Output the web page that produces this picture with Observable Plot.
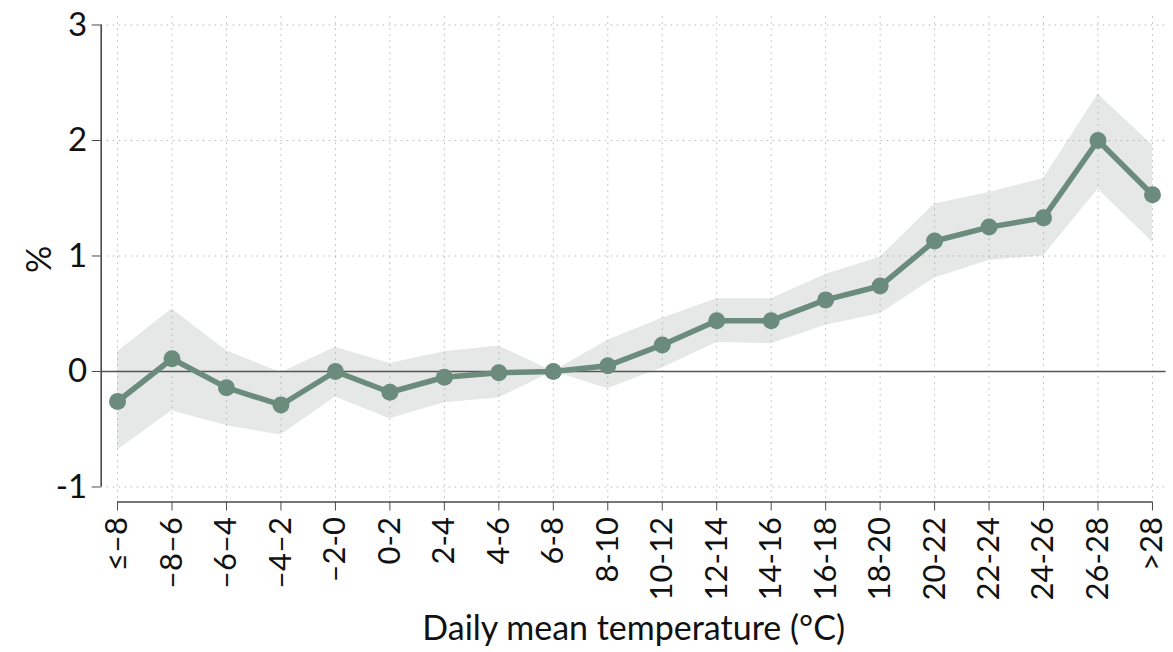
<!DOCTYPE html>
<html>
<head>
<meta charset="utf-8">
<script src="https://cdn.jsdelivr.net/npm/d3@7"></script>
<script src="https://cdn.jsdelivr.net/npm/@observablehq/plot@0.6"></script>
<style>
  html, body { margin: 0; padding: 0; background: #fff; }
  #chart svg { display: block; }
</style>
</head>
<body>
<div id="chart"></div>
<script>
// Temperature bins (°C), estimated effect (%) and 95% confidence bounds
const bins = ["≤–8", "–8–6", "–6–4", "–4–2", "–2-0", "0-2", "2-4", "4-6", "6-8", "8-10",
              "10-12", "12-14", "14-16", "16-18", "18-20", "20-22", "22-24", "24-26", "26-28", ">28"];
const estimate = [-0.26, 0.11, -0.14, -0.29, 0.00, -0.18, -0.05, -0.01, 0.00, 0.05,
                  0.23, 0.44, 0.44, 0.62, 0.74, 1.13, 1.25, 1.33, 2.00, 1.53];
const lower = [-0.68, -0.34, -0.47, -0.55, -0.22, -0.41, -0.27, -0.23, 0.00, -0.15,
               0.03, 0.25, 0.24, 0.40, 0.50, 0.81, 0.96, 1.00, 1.58, 1.12];
const upper = [0.17, 0.54, 0.18, -0.01, 0.21, 0.07, 0.17, 0.22, 0.00, 0.27,
               0.46, 0.63, 0.63, 0.84, 0.99, 1.45, 1.55, 1.67, 2.40, 1.96];
const yTicks = [-1, 0, 1, 2, 3];

const rows = bins.map((b, i) => ({i, bin: b, est: estimate[i], lo: lower[i], hi: upper[i]}));
const idx = d3.range(bins.length);

const xDomain = [-0.3, bins.length - 1 + 0.25];
const yDomain = [-1.13, 3.07];
const green = "#6b8b7c";
const axisColor = "#4a4a4a";

const chart = Plot.plot({
  width: 1173,
  height: 652,
  marginLeft: 100.7,
  marginRight: 7.4,
  marginTop: 16.4,
  marginBottom: 150.5,
  style: {fontFamily: "Lato, 'Open Sans', sans-serif", fontSize: "31px", color: "#111"},
  x: {type: "linear", domain: xDomain},
  y: {domain: yDomain},
  marks: [
    // confidence band
    Plot.areaY(rows, {x: "i", y1: "lo", y2: "hi", fill: "#e5e8e6"}),
    // dotted grid
    Plot.gridX(idx, {stroke: "#9a9a9a", strokeOpacity: 0.7, strokeDasharray: "1.5,4.5", strokeWidth: 1}),
    Plot.gridY(yTicks.filter(d => d !== 0), {stroke: "#9a9a9a", strokeOpacity: 0.7, strokeDasharray: "1.5,4.5", strokeWidth: 1}),
    // reference line at zero
    Plot.ruleY([0], {stroke: "#555", strokeWidth: 1.6}),
    // axis lines
    Plot.ruleX([xDomain[0]], {y1: yTicks[0], y2: yTicks[yTicks.length - 1], stroke: axisColor, strokeWidth: 1.6}),
    Plot.ruleY([yDomain[0]], {x1: 0, x2: bins.length - 1, stroke: axisColor, strokeWidth: 1.6}),
    // estimates
    Plot.lineY(rows, {x: "i", y: "est", stroke: green, strokeWidth: 5.5}),
    Plot.dot(rows, {x: "i", y: "est", r: 8.5, fill: green}),
    // axes
    Plot.axisY({
      ticks: yTicks, tickSize: 9, tickPadding: 5, stroke: axisColor,
      fontSize: 33, tickFormat: d => d < 0 ? "-" + Math.abs(d) : String(d),
      label: "%", labelAnchor: "center", labelOffset: 74, labelArrow: "none"
    }),
    Plot.axisX({
      ticks: idx, tickSize: 9, tickPadding: 6, stroke: axisColor,
      tickFormat: i => bins[i], tickRotate: -90, textAnchor: "end",
      fontSize: 31,
      label: "Daily mean temperature (°C)", labelAnchor: "center", labelOffset: 138, labelArrow: "none"
    })
  ]
});

// axis titles a little larger than the tick labels
chart.querySelectorAll("[aria-label='x-axis label'] text, [aria-label='y-axis label'] text")
  .forEach(t => t.setAttribute("font-size", 34));

document.getElementById("chart").appendChild(chart);
</script>
</body>
</html>
